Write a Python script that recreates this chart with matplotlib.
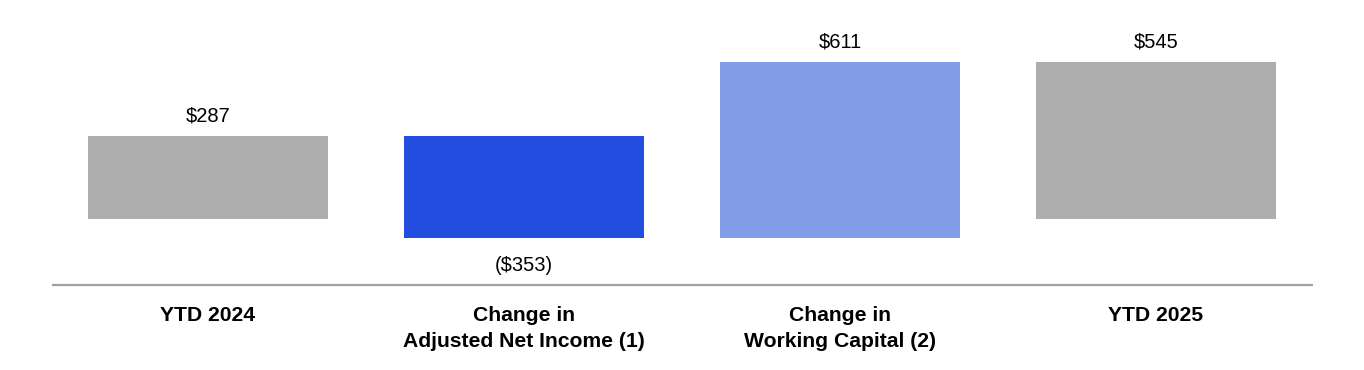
import matplotlib
matplotlib.use('Agg')
from matplotlib import pyplot as plt

# waterfall data ($, millions)
categories = ['YTD 2024', 'Change in\nAdjusted Net Income (1)', 'Change in\nWorking Capital (2)', 'YTD 2025']
values = [287, -353, 611, 545]
is_total = [True, False, False, True]
labels = ['$287', '($353)', '$611', '$545']
colors = ['#ADADAD', '#234DDF', '#829DE8', '#ADADAD']

plt.rcParams['font.family'] = ['Liberation Sans', 'DejaVu Sans']

fig = plt.figure(figsize=(13.64, 3.70), dpi=100)
ax = fig.add_axes([0, 0, 1, 1])

# work out bar bottoms / heights
bottoms = []
heights = []
running = 0
for v, tot in zip(values, is_total):
    if tot:
        bottoms.append(0)
        heights.append(v)
        running = v
    else:
        bottoms.append(running)
        heights.append(v)
        running = running + v

xs = list(range(len(categories)))
ax.bar(xs, heights, bottom=bottoms, width=0.76, color=colors, linewidth=0)

for x, b, h, lab in zip(xs, bottoms, heights, labels):
    if h >= 0:
        ax.annotate(lab, xy=(x, b + h), xytext=(0, 7.5), textcoords='offset points',
                    ha='center', va='bottom', fontsize=14.5, color='#000000')
    else:
        ax.annotate(lab, xy=(x, b + h), xytext=(0, -12.5), textcoords='offset points',
                    ha='center', va='top', fontsize=14.5, color='#000000')

line_y = -228
ax.plot([-0.494, 3.497], [line_y, line_y], color='#A0A0A0', linewidth=1.6, solid_capstyle='butt')

for x, cat in zip(xs, categories):
    ax.annotate(cat, xy=(x, line_y), xytext=(0, -15), textcoords='offset points',
                ha='center', va='top', fontsize=15.2, fontweight='bold',
                linespacing=1.5, color='#000000')

ax.set_xlim(-0.658, 3.658)
ax.set_ylim(-522, 758)
ax.axis('off')

plt.savefig('out.png', dpi=100)
plt.close()
